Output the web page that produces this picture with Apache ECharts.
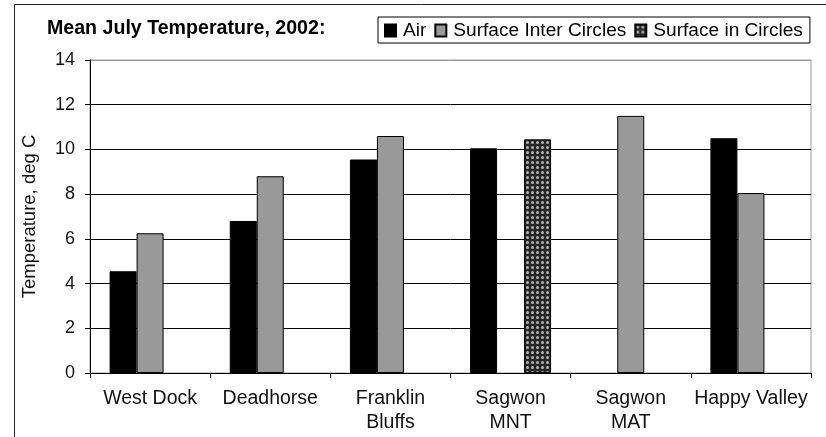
<!DOCTYPE html>
<html>
<head>
<meta charset="utf-8">
<script src="https://cdn.jsdelivr.net/npm/echarts@6/dist/echarts.min.js"></script>
<style>html,body{margin:0;padding:0;background:#fff}#c{width:826px;height:437px}</style>
</head>
<body>
<div id="c"></div>
<script>
var titleText = 'Mean July Temperature, 2002:';
var categories = ['West Dock', 'Deadhorse', 'Franklin\nBluffs', 'Sagwon\nMNT', 'Sagwon\nMAT', 'Happy Valley'];
var seriesNames = ['Air', 'Surface Inter Circles', 'Surface in Circles'];
var airValues = [4.55, 6.8, 9.55, 10.05, null, 10.5];
var surfaceInterValues = [6.25, 8.8, 10.6, null, 11.5, 8.05];
var surfaceInValues = [null, null, null, 10.45, null, null];
var yTicks = [0, 2, 4, 6, 8, 10, 12, 14];

function makePattern() {
  var c = document.createElement('canvas');
  c.width = 5; c.height = 5;
  var ctx = c.getContext('2d');
  ctx.fillStyle = '#262626';
  ctx.fillRect(0, 0, 5, 5);
  ctx.fillStyle = '#b4b4b4';
  ctx.beginPath();
  ctx.arc(2.5, 2.5, 1.5, 0, Math.PI * 2);
  ctx.fill();
  return c;
}

var FONT = '"Liberation Sans", Arial, sans-serif';
var chart = echarts.init(document.getElementById('c'), null, {renderer: 'canvas'});
var pattern = {image: makePattern(), repeat: 'repeat'};

var option = {
  animation: false,
  backgroundColor: '#fff',
  textStyle: {fontFamily: FONT},
  graphic: [
    {type: 'rect', shape: {x: 14.5, y: 4.5, width: 900, height: 900}, style: {fill: 'none', stroke: '#222', lineWidth: 1}, z: 0},
    {type: 'text', left: 47, top: 19, style: {text: titleText, font: 'bold 19.6px ' + FONT, fill: '#000'}}
  ],
  legend: {
    left: 378, top: 17,
    data: seriesNames,
    borderColor: '#000', borderWidth: 1,
    padding: [4, 7, 3, 6],
    itemWidth: 11, itemHeight: 12, itemGap: 8,
    textStyle: {fontSize: 19.1, color: '#000', fontFamily: FONT, padding: [0, 0, 0, 2]},
    icon: 'rect'
  },
  grid: {left: 90, right: 15, top: 60, bottom: 64, show: true, borderColor: '#999', borderWidth: 1, backgroundColor: '#fff'},
  xAxis: {
    type: 'category', data: categories,
    axisLine: {lineStyle: {color: '#000', width: 1}},
    axisTick: {show: true, length: 5, lineStyle: {color: '#000'}},
    axisLabel: {color: '#111', fontSize: 19.5, lineHeight: 24, margin: 14, interval: 0, fontFamily: FONT}
  },
  yAxis: {
    type: 'value', min: yTicks[0], max: yTicks[yTicks.length - 1], interval: 2,
    name: 'Temperature, deg C', nameLocation: 'middle', nameGap: 51,
    nameTextStyle: {fontSize: 18.5, color: '#111', fontFamily: FONT},
    axisLine: {show: true, lineStyle: {color: '#000', width: 1}},
    axisTick: {show: true, length: 5, lineStyle: {color: '#000'}},
    axisLabel: {color: '#111', fontSize: 18, margin: 15, fontFamily: FONT},
    splitLine: {show: true, lineStyle: {color: ['#000', '#000', '#000', '#000', '#000', '#000', '#000', '#999'], width: 1}}
  },
  series: [
    {name: seriesNames[0], type: 'bar', data: airValues, barWidth: 27, barGap: '0%',
     itemStyle: {color: '#000', borderColor: '#000', borderWidth: 1}},
    {name: seriesNames[1], type: 'bar', data: surfaceInterValues, barWidth: 27, barGap: '0%',
     itemStyle: {color: '#999', borderColor: '#000', borderWidth: 1}},
    {name: seriesNames[2], type: 'bar', data: surfaceInValues, barWidth: 27, barGap: '0%',
     itemStyle: {color: pattern, borderColor: '#000', borderWidth: 1}}
  ]
};
chart.setOption(option);
</script>
</body>
</html>
